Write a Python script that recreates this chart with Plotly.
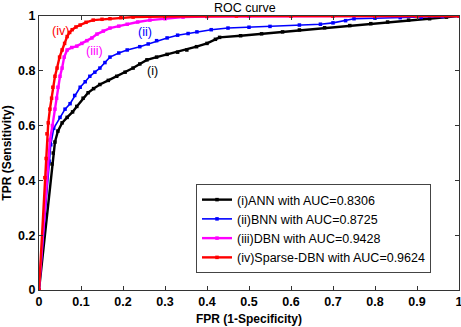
import plotly.graph_objects as go

# ANN (i)
ann_fpr = [0, 0.031, 0.034, 0.038, 0.045, 0.055, 0.067, 0.08, 0.09, 0.105, 0.117, 0.13, 0.145, 0.165, 0.185, 0.205,
           0.224, 0.24, 0.257, 0.28, 0.305, 0.33, 0.352, 0.375, 0.4, 0.42, 0.43, 0.48, 0.53, 0.58, 0.62, 0.68, 0.74,
           0.79, 0.83, 0.88, 0.93, 0.97, 1.0]
ann_tpr = [0, 0.46, 0.50, 0.54, 0.58, 0.61, 0.63, 0.65, 0.67, 0.70, 0.72, 0.735, 0.75, 0.765, 0.78, 0.795,
           0.81, 0.825, 0.84, 0.85, 0.86, 0.868, 0.876, 0.888, 0.90, 0.915, 0.922, 0.928, 0.935, 0.942, 0.949, 0.957,
           0.965, 0.972, 0.978, 0.985, 0.99, 0.996, 1.0]
# BNN (ii)
bnn_fpr = [0, 0.024, 0.028, 0.035, 0.05, 0.062, 0.074, 0.085, 0.098, 0.11, 0.121, 0.133, 0.145, 0.157, 0.169, 0.19,
           0.21, 0.24, 0.26, 0.28, 0.305, 0.33, 0.355, 0.376, 0.41, 0.45, 0.5, 0.55, 0.62, 0.67, 0.70, 0.73, 0.75,
           0.8, 0.86, 0.91, 0.96, 1.0]
bnn_tpr = [0, 0.47, 0.53, 0.59, 0.63, 0.66, 0.68, 0.71, 0.74, 0.76, 0.78, 0.795, 0.81, 0.83, 0.85, 0.865,
           0.876, 0.888, 0.898, 0.91, 0.92, 0.93, 0.936, 0.942, 0.95, 0.956, 0.959, 0.962, 0.967, 0.97, 0.975, 0.983,
           0.99, 0.992, 0.994, 0.995, 0.998, 1.0]
# DBN (iii)
dbn_fpr = [0, 0.02, 0.026, 0.032, 0.038, 0.042, 0.045, 0.05, 0.055, 0.06, 0.067, 0.078, 0.09, 0.102, 0.114, 0.126,
           0.138, 0.153, 0.169, 0.19, 0.21, 0.235, 0.264, 0.3, 0.343, 0.4, 0.5, 0.6, 0.7, 0.8, 0.9, 1.0]
dbn_tpr = [0, 0.44, 0.547, 0.60, 0.66, 0.70, 0.74, 0.78, 0.81, 0.85, 0.876, 0.885, 0.89, 0.90, 0.91, 0.92,
           0.934, 0.945, 0.956, 0.963, 0.97, 0.978, 0.985, 0.99, 0.996, 0.998, 0.999, 1, 1, 1, 1, 1]
# Sparse-DBN (iv)
sdbn_fpr = [0, 0.014, 0.017, 0.019, 0.022, 0.026, 0.03, 0.033, 0.038, 0.043, 0.049, 0.055, 0.061, 0.067, 0.073,
            0.079, 0.088, 0.098, 0.112, 0.129, 0.15, 0.169, 0.195, 0.224, 0.3, 0.4, 0.47, 0.6, 0.7, 0.8, 0.9, 1.0]
sdbn_tpr = [0, 0.41, 0.48, 0.57, 0.61, 0.66, 0.70, 0.74, 0.78, 0.81, 0.85, 0.876, 0.90, 0.925, 0.94,
            0.95, 0.96, 0.967, 0.977, 0.985, 0.988, 0.99, 0.994, 0.996, 0.998, 1, 1, 1, 1, 1, 1, 1]

names = ["(i)ANN with AUC=0.8306", "(ii)BNN with AUC=0.8725",
         "(iii)DBN with AUC=0.9428", "(iv)Sparse-DBN with AUC=0.9624"]
colors = ["#000000", "#0000ff", "#ff00ff", "#ff0000"]
tick_vals_x = [0, 0.1, 0.2, 0.3, 0.4, 0.5, 0.6, 0.7, 0.8, 0.9, 1]
tick_text_x = ["0", "0.1", "0.2", "0.3", "0.4", "0.5", "0.6", "0.7", "0.8", "0.9", "1"]
tick_vals_y = [0, 0.2, 0.4, 0.6, 0.8, 1]
tick_text_y = ["0", "0.2", "0.4", "0.6", "0.8", "1"]

series = [(ann_fpr, ann_tpr), (bnn_fpr, bnn_tpr), (dbn_fpr, dbn_tpr), (sdbn_fpr, sdbn_tpr)]
widths = [2.4, 1.6, 2.4, 2.4]

fig = go.Figure()
for (xs, ys), n, c, w in zip(series, names, colors, widths):
    fig.add_trace(go.Scatter(x=xs, y=ys, mode="lines+markers", name=n,
                             line=dict(color=c, width=w),
                             marker=dict(color=c, size=3.5, symbol="square")))

font = "Liberation Sans, Arial, sans-serif"
fig.update_layout(
    width=461, height=327,
    margin=dict(l=39, r=2, t=16, b=37),
    plot_bgcolor="white", paper_bgcolor="white",
    font=dict(family=font, color="black", size=12),
    title=dict(text="ROC curve", x=(39 + 420 * 0.49) / 461, xanchor="center",
               y=1 - 8 / 327, yanchor="middle", font=dict(size=12.5)),
    showlegend=True,
    legend=dict(x=(196 - 39) / 420, y=(290 - 184) / 274, xanchor="left", yanchor="top",
                bordercolor="#444", borderwidth=1, bgcolor="white",
                font=dict(size=12.5), tracegroupgap=0, itemwidth=30),
    xaxis=dict(range=[0, 1], tickvals=tick_vals_x, ticktext=tick_text_x, automargin=False,
               ticklabeloverflow="allow",
               showgrid=False, zeroline=False, showline=True, mirror="ticks",
               linecolor="#333", linewidth=1, ticks="inside", ticklen=4, tickcolor="#333",
               tickfont=dict(size=12.5, family="Liberation Sans, Arial", weight="bold"),
               title=dict(text="<b>FPR (1-Specificity)</b>", standoff=6, font=dict(size=12))),
    yaxis=dict(range=[0, 1], tickvals=tick_vals_y, ticktext=tick_text_y, automargin=False,
               ticklabeloverflow="allow",
               showgrid=False, zeroline=False, showline=True, mirror="ticks",
               linecolor="#333", linewidth=1, ticks="inside", ticklen=4, tickcolor="#333",
               tickfont=dict(size=12.5, family="Liberation Sans, Arial", weight="bold"),
               title=dict(text="<b>TPR (Sensitivity)</b>", standoff=4, font=dict(size=12))),
)

labels = [("(i)", 0.271, 0.80, colors[0]), ("(ii)", 0.252, 0.94, colors[1]),
          ("(iii)", 0.133, 0.873, colors[2]), ("(iv)", 0.05, 0.945, colors[3])]
for t, x, y, c in labels:
    fig.add_annotation(x=x, y=y, text=t, showarrow=False, font=dict(size=12.5, color=c))

fig.write_html("out.html", config={"displayModeBar": False},
               post_script="document.body.style.margin='0';")
